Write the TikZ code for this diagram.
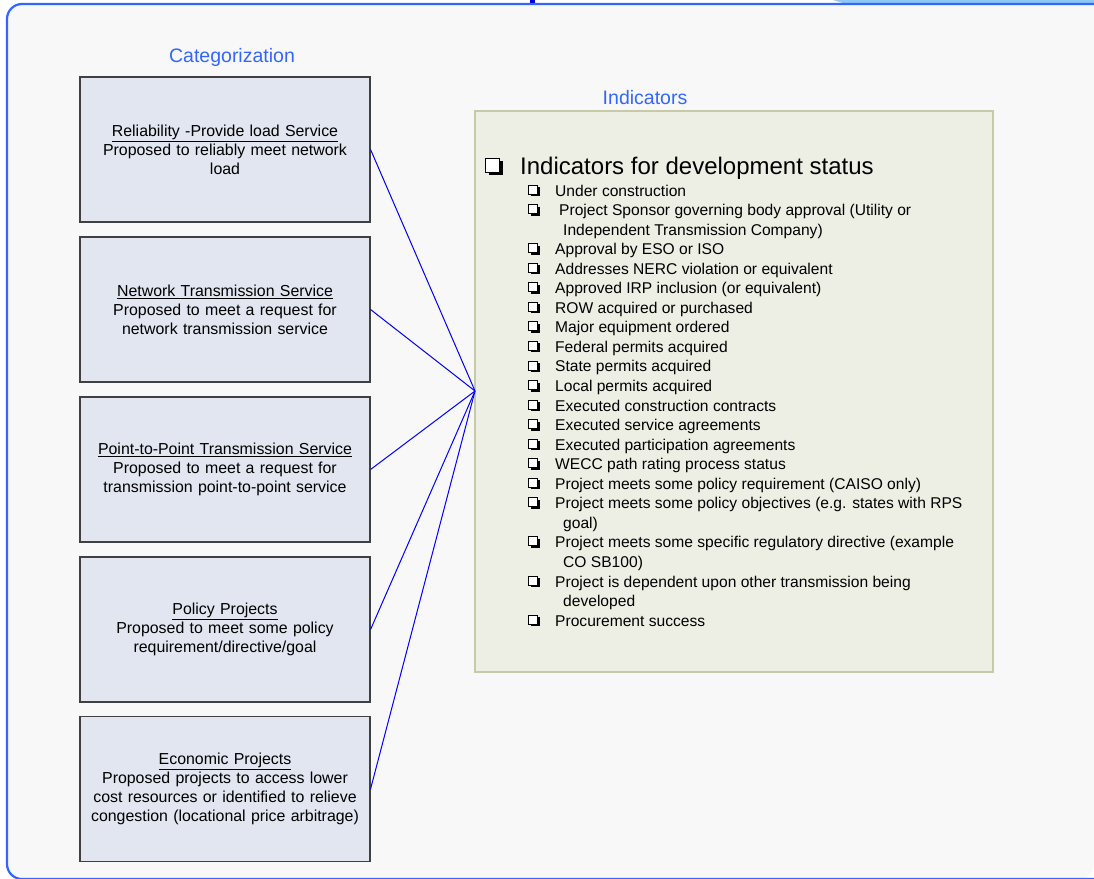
\documentclass[tikz,border=0pt]{standalone}
\usepackage{fontspec}
\setmainfont{Liberation Sans}
\definecolor{framecol}{HTML}{3366FF}
\definecolor{pagebg}{HTML}{F8F8F8}
\definecolor{boxfill}{HTML}{E1E6F0}
\definecolor{boxline}{HTML}{404040}
\definecolor{indfill}{HTML}{EEEFE4}
\definecolor{indline}{HTML}{C6CAA6}
\definecolor{linkcol}{HTML}{0000FF}
\definecolor{tabcol}{HTML}{8EC8F5}
\definecolor{dkblue}{HTML}{0000CC}
\tikzset{
  catbox/.style={draw=boxline, line width=1.1pt, fill=boxfill, minimum width=290pt,
    minimum height=145pt, inner sep=0pt, align=center, text width=280pt,
    font=\fontsize{15.9}{19}\selectfont},
  header/.style={text=framecol, font=\fontsize{19.5}{23}\selectfont, inner sep=0pt},
  item/.style={anchor=base west, inner sep=0pt, font=\fontsize{15.6}{19}\selectfont},
  link/.style={draw=linkcol, line width=1pt},
  framepath/.style={rounded corners=15pt}
}
% bullet: x, baseline y, side, shadow
\newcommand{\qbul}[4]{%
  \fill[black] ({#1+#4},{#2-#3}) rectangle ({#1+#3+#4},{#2});
  \draw[black, line width=0.9pt, fill=white] (#1,{#2-#3-#4}) rectangle ({#1+#3},{#2-#4});
}
\begin{document}
\begin{tikzpicture}[x=1pt,y=-1pt]
\useasboundingbox (0,0) rectangle (1094,878);
\fill[white] (0,0) rectangle (1094,878);
% top fragments
\fill[tabcol] (833,0) -- (1094,0) -- (1094,4) -- (846,4) -- cycle;
\fill[dkblue] (530,0) rectangle (535,2.5);
% frame (right side lies outside the picture)
\fill[pagebg, framepath] (1094,4) -- (7,4) -- (7,879) -- (1094,879) [sharp corners] -- cycle;
\draw[framecol, line width=2.2pt, framepath] (1094,4) -- (7,4) -- (7,879) -- (1094,879);

% headers
\node[header, anchor=base] (cathead) at (232,62) {Categorization};
\node[header, anchor=base] (indhead) at (645,104) {Indicators};

% category boxes
\node[catbox] (b1) at (225,149.5) {\underline{Reliability -Provide load Service}\\Proposed to reliably meet network\\load};
\node[catbox] (b2) at (225,309.5) {\underline{Network Transmission Service}\\Proposed to meet a request for\\network transmission service};
\node[catbox] (b3) at (225,469.5) {\underline{Point-to-Point Transmission Service}\\Proposed to meet a request for\\transmission point-to-point service};
\node[catbox] (b4) at (225,629.5) {\underline{Policy Projects}\\Proposed to meet some policy\\requirement/directive/goal};
\node[catbox] (b5) at (225,789) {\underline{Economic Projects}\\Proposed projects to access lower\\cost resources or identified to relieve\\congestion (locational price arbitrage)};

% indicators box
\draw[indline, line width=1.5pt, fill=indfill] (475,111) rectangle (993,672);
\coordinate (hub) at (475,391);

% connectors
\foreach \b in {b1,b2,b3,b4,b5} { \draw[link] (\b.east) -- (hub); }

% main heading
\qbul{485.5}{175}{14}{3}
\node[item, font=\fontsize{24}{28}\selectfont] (mainhead) at (520,174) {Indicators for development status};

% sub items
\foreach \k in {0,1,3,4,5,6,7,8,9,10,11,12,13,14,15,16,18,20,22} {
  \qbul{528.5}{196+19.55*\k}{9}{2}
}
\node[item] (i0) at (555,{196+19.55*0}) {Under construction};
\node[item] (i1) at (559,{196+19.55*1}) {Project Sponsor governing body approval (Utility or};
\node[item] (i2) at (563,{196+19.55*2}) {Independent Transmission Company)};
\node[item] (i3) at (555,{196+19.55*3}) {Approval by ESO or ISO};
\node[item] (i4) at (555,{196+19.55*4}) {Addresses NERC violation or equivalent};
\node[item] (i5) at (555,{196+19.55*5}) {Approved IRP inclusion (or equivalent)};
\node[item] (i6) at (555,{196+19.55*6}) {ROW acquired or purchased};
\node[item] (i7) at (555,{196+19.55*7}) {Major equipment ordered};
\node[item] (i8) at (555,{196+19.55*8}) {Federal permits acquired};
\node[item] (i9) at (555,{196+19.55*9}) {State permits acquired};
\node[item] (i10) at (555,{196+19.55*10}) {Local permits acquired};
\node[item] (i11) at (555,{196+19.55*11}) {Executed construction contracts};
\node[item] (i12) at (555,{196+19.55*12}) {Executed service agreements};
\node[item] (i13) at (555,{196+19.55*13}) {Executed participation agreements};
\node[item] (i14) at (555,{196+19.55*14}) {WECC path rating process status};
\node[item] (i15) at (555,{196+19.55*15}) {Project meets some policy requirement (CAISO only)};
\node[item] (i16) at (555,{196+19.55*16}) {Project meets some policy objectives (e.g. states with RPS};
\node[item] (i17) at (563,{196+19.55*17}) {goal)};
\node[item] (i18) at (555,{196+19.55*18}) {Project meets some specific regulatory directive (example};
\node[item] (i19) at (563,{196+19.55*19}) {CO SB100)};
\node[item] (i20) at (555,{196+19.55*20}) {Project is dependent upon other transmission being};
\node[item] (i21) at (563,{196+19.55*21}) {developed};
\node[item] (i22) at (555,{196+19.55*22}) {Procurement success};
\end{tikzpicture}
\end{document}
